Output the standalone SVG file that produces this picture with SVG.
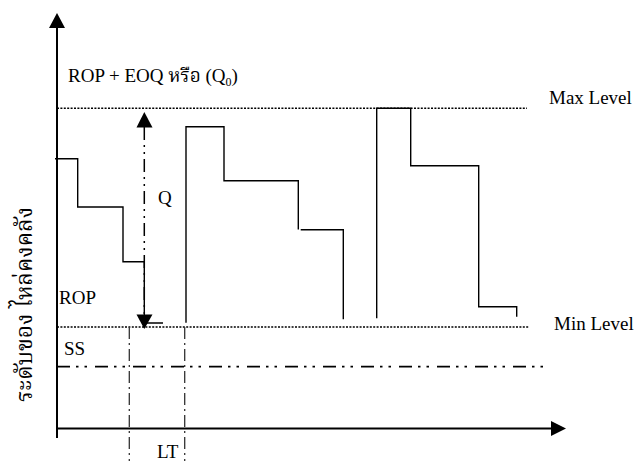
<svg xmlns="http://www.w3.org/2000/svg" width="636" height="461" viewBox="0 0 636 461">
<style>
  .lbl { font-family: "Liberation Serif", "Noto Serif Thai", "Noto Sans Thai", "Noto Sans", serif; font-size: 19px; fill: #000; }
  .axis { stroke: #000; stroke-width: 2; fill: none; }
  .step { stroke: #000; stroke-width: 1.4; fill: none; }
  .dot { stroke: #000; stroke-width: 1.5; stroke-dasharray: 2 1.4; fill: none; }
  .ss { stroke: #000; stroke-width: 1.8; stroke-dasharray: 13 6 2.5 6 2.5 8; fill: none; }
  .lt { stroke: #333; stroke-width: 1.3; stroke-dasharray: 12 4 2 4; fill: none; }
  .qline { stroke: #000; stroke-width: 1.5; stroke-dasharray: 13 5 2 5 2 5; fill: none; }
  .head { fill: #000; }
</style>
<rect width="636" height="461" fill="#fff"/>

<g id="axes">
  <line class="axis" x1="57" y1="26" x2="57" y2="438"/>
  <polygon class="head" points="57,13 49,28 65,28"/>
  <line class="axis" x1="57" y1="428.5" x2="553" y2="428.5"/>
  <polygon class="head" points="566,428.5 551,421 551,436"/>
</g>

<g id="levels">
  <line class="dot" x1="57" y1="108.3" x2="527" y2="108.3"/>
  <line class="dot" x1="57" y1="327" x2="529" y2="327"/>
  <line class="ss" x1="57" y1="366.7" x2="548" y2="366.7"/>
</g>

<g id="lead-time">
  <line class="lt" x1="129.3" y1="327" x2="129.3" y2="461"/>
  <line class="lt" x1="184.7" y1="327" x2="184.7" y2="461"/>
</g>

<g id="cycles">
  <polyline class="step" points="55,158.7 77.7,158.7 77.7,207 123,207 123,261.7 144.3,261.7 144.3,323 163,323"/>
  <polyline class="step" points="186,322.7 186,126.7 224,126.7 224,180.7 298.3,180.7 298.3,229.5"/>
  <polyline class="step" points="300.7,229.7 343.3,229.7 343.3,319.3"/>
  <polyline class="step" points="376.7,318.3 376.7,108.3 410.7,108.3 410.7,165.7 478.7,165.7 478.7,306.7 516.7,306.7 516.7,316.7"/>
</g>

<g id="q-arrow">
  <line class="qline" x1="144.3" y1="127" x2="144.3" y2="316"/>
  <polygon class="head" points="144.3,112 136.5,127.5 152.5,127.5"/>
  <polygon class="head" points="144.3,329 136.5,314.5 152.5,314.5"/>
</g>

<g id="labels">
  <text class="lbl" x="68" y="82">ROP + EOQ หรือ (Q<tspan font-size="12" dy="4">0</tspan><tspan dy="-4">)</tspan></text>
  <text class="lbl" x="549" y="104">Max Level</text>
  <text class="lbl" x="554" y="329.5">Min Level</text>
  <text class="lbl" x="158" y="204">Q</text>
  <text class="lbl" x="59" y="303.5">ROP</text>
  <text class="lbl" x="64" y="355">SS</text>
  <text class="lbl" x="157" y="458">LT</text>
  <text transform="translate(32,304.5) rotate(-90)" text-anchor="middle" textLength="195" lengthAdjust="spacingAndGlyphs" style="font-family: 'Noto Serif Thai', 'Noto Sans Thai', 'Noto Sans', 'DejaVu Sans', sans-serif; font-size: 23px; fill: #000;">ระดับของ ไหล่คงคลัง</text>
</g>
</svg>
